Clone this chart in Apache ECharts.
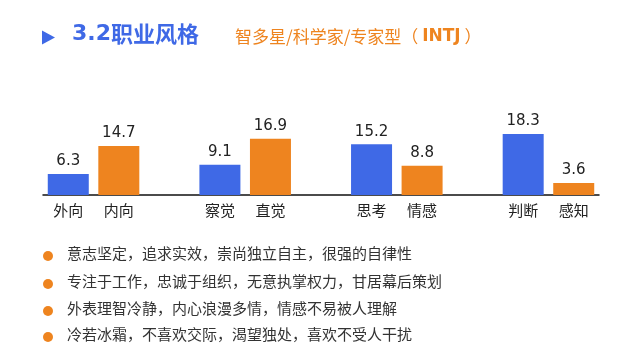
<!DOCTYPE html>
<html>
<head>
<meta charset="utf-8">
<style>
html,body{margin:0;padding:0;background:#fff;}
#chart{width:640px;height:360px;}
</style>
<script src="https://cdn.jsdelivr.net/npm/echarts@6/dist/echarts.min.js"></script>
</head>
<body>
<div id="chart"></div>
<script>
// Data
var leftLabels = ['外向', '察觉', '思考', '判断'];
var rightLabels = ['内向', '直觉', '情感', '感知'];
var leftValues = [6.3, 9.1, 15.2, 18.3];
var rightValues = [14.7, 16.9, 8.8, 3.6];
var titleNum = '3.2';
var titleText = '职业风格';
var subtitleText = '智多星/科学家/专家型（';
var subtitleBold = 'INTJ';
var subtitleEnd = '）';
var bullets = [
  '意志坚定，追求实效，崇尚独立自主，很强的自律性',
  '专注于工作，忠诚于组织，无意执掌权力，甘居幕后策划',
  '外表理智冷静，内心浪漫多情，情感不易被人理解',
  '冷若冰霜，不喜欢交际，渴望独处，喜欢不受人干扰'
];

var BLUE = '#3F69E6';
var ORANGE = '#EE841F';
var CJK = '"Noto Sans CJK SC", "DejaVu Sans", sans-serif';

// Build axis categories with a spacer slot between pairs
var cats = [], data = [];
for (var i = 0; i < leftLabels.length; i++) {
  if (i > 0) { cats.push(''); data.push({value: null}); }
  cats.push(leftLabels[i]);
  data.push({value: leftValues[i], itemStyle: {color: BLUE}});
  cats.push(rightLabels[i]);
  data.push({value: rightValues[i], itemStyle: {color: ORANGE}});
}

var graphics = [
  {type: 'polygon', shape: {points: [[42, 30.5], [55, 37.5], [42, 44.5]]}, style: {fill: BLUE}},
  {type: 'text', left: 72, top: 23, style: {
    text: '{n|' + titleNum + '}{c|' + titleText + '}',
    fill: BLUE,
    rich: {
      n: {fontWeight: 'bold', fontSize: 22, fontFamily: 'DejaVu Sans', fill: BLUE},
      c: {fontWeight: 'bold', fontSize: 22, fontFamily: CJK, fill: BLUE}
    }
  }},
  {type: 'text', left: 235, top: 28, style: {
    text: '{c|' + subtitleText + ' }{b|' + subtitleBold + '}{c| ' + subtitleEnd + '}',
    fill: ORANGE,
    rich: {
      c: {fontSize: 17, fontFamily: CJK, fill: ORANGE},
      b: {fontWeight: 'bold', fontSize: 17, fontFamily: 'DejaVu Sans', fill: ORANGE}
    }
  }}
];
var ys = [256, 284, 311, 337];
bullets.forEach(function (t, k) {
  graphics.push({type: 'circle', shape: {cx: 48, cy: ys[k], r: 5}, style: {fill: ORANGE}});
  graphics.push({type: 'text', left: 67, top: ys[k] - 10, style: {text: t, font: '15px ' + CJK, fill: '#333'}});
});

var chart = echarts.init(document.getElementById('chart'));
chart.setOption({
  animation: false,
  backgroundColor: '#fff',
  grid: {left: 43, right: 41, top: 95, bottom: 165},
  xAxis: {
    type: 'category', data: cats,
    axisLine: {lineStyle: {color: '#111', width: 1.5}},
    axisTick: {show: false},
    axisLabel: {color: '#222', fontSize: 15, fontFamily: CJK, margin: 8, interval: 0}
  },
  yAxis: {type: 'value', min: 0, max: 30, show: false, splitLine: {show: false}},
  series: [{
    type: 'bar', data: data, barWidth: 41,
    label: {show: true, position: 'top', distance: 5, color: '#222', fontSize: 15, fontFamily: 'DejaVu Sans'}
  }],
  graphic: graphics
});
</script>
</body>
</html>
